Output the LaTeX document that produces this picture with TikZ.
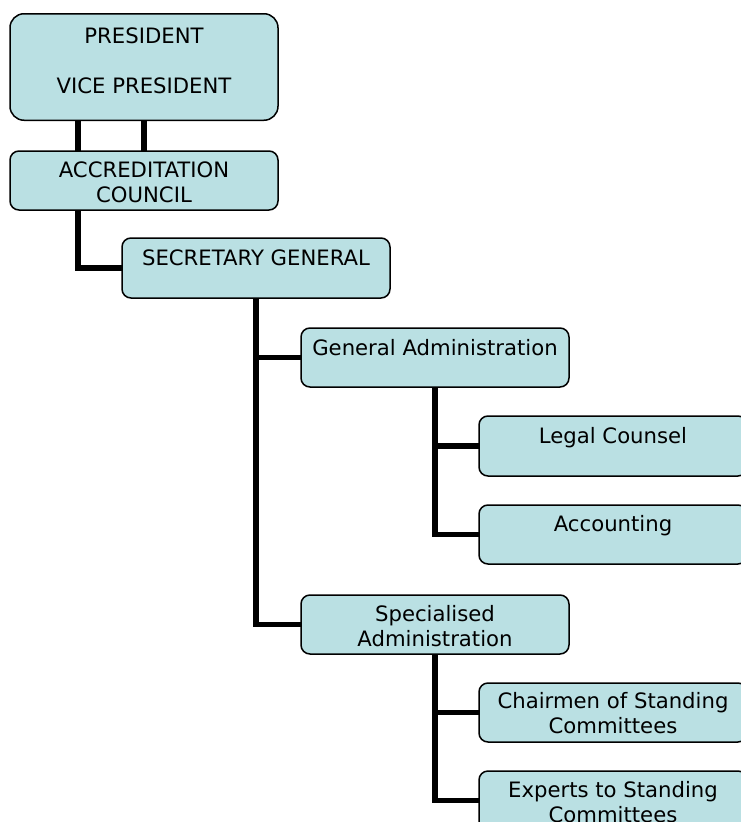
\documentclass[tikz,border=0pt]{standalone}
\usepackage{fontspec}
\setmainfont{DejaVu Sans}
\definecolor{boxfill}{RGB}{186,224,227}
\tikzset{
  box/.style={draw=black, line width=1.5pt, fill=boxfill, rounded corners=9pt,
    minimum width=268pt, minimum height=59pt, inner sep=0pt, outer sep=0pt},
  lbl/.style={inner sep=0pt, anchor=base, align=center,
    font=\fontsize{21.2}{25}\selectfont},
  conn/.style={line width=5.8pt}
}
\begin{document}
\begin{tikzpicture}[x=1pt,y=-1pt]
\useasboundingbox (0,0) rectangle (741,822);
\clip (0,0) rectangle (741,822);
% boxes
\node[box, rounded corners=14pt, minimum height=106.5pt] (pres) at (144,67) {};
\node[box] (acc) at (144,180.5) {};
\node[box, minimum height=60pt] (sec) at (256,268) {};
\node[box] (gen) at (435,357.5) {};
\node[box, minimum height=60pt] (legal) at (613,446) {};
\node[box] (acct) at (613,534.5) {};
\node[box] (spec) at (435,624.5) {};
\node[box] (chair) at (613,712.5) {};
\node[box] (exp) at (613,800.5) {};
% connectors
\draw[conn] ([xshift=-66pt]pres.south) -- ([xshift=-66pt]acc.north);
\draw[conn] (pres.south) -- (acc.north);
\draw[conn] ([xshift=-66pt]acc.south) |- (sec.west);
\draw[conn] (sec.south) |- (gen.west);
\draw[conn] (sec.south) |- (spec.west);
\draw[conn] (gen.south) |- (legal.west);
\draw[conn] (gen.south) |- (acct.west);
\draw[conn] (spec.south) |- (chair.west);
\draw[conn] (spec.south) |- (exp.west);
% labels (base anchor = baseline of last line)
\node[lbl] (presT) at ([yshift=-80pt]pres.north) {PRESIDENT\\[25pt]VICE PRESIDENT};
\node[lbl] (accT) at ([yshift=-51pt]acc.north) {ACCREDITATION\\COUNCIL};
\node[lbl] (secT) at ([yshift=-27pt]sec.north) {SECRETARY GENERAL};
\node[lbl] (genT) at ([yshift=-27pt]gen.north) {General Administration};
\node[lbl] (legalT) at ([yshift=-27pt]legal.north) {Legal Counsel};
\node[lbl] (acctT) at ([yshift=-26pt]acct.north) {Accounting};
\node[lbl] (specT) at ([yshift=-51pt]spec.north) {Specialised\\Administration};
\node[lbl] (chairT) at ([yshift=-50pt]chair.north) {Chairmen of Standing\\Committees};
\node[lbl] (expT) at ([yshift=-51pt]exp.north) {Experts to Standing\\Committees};
\end{tikzpicture}
\end{document}
